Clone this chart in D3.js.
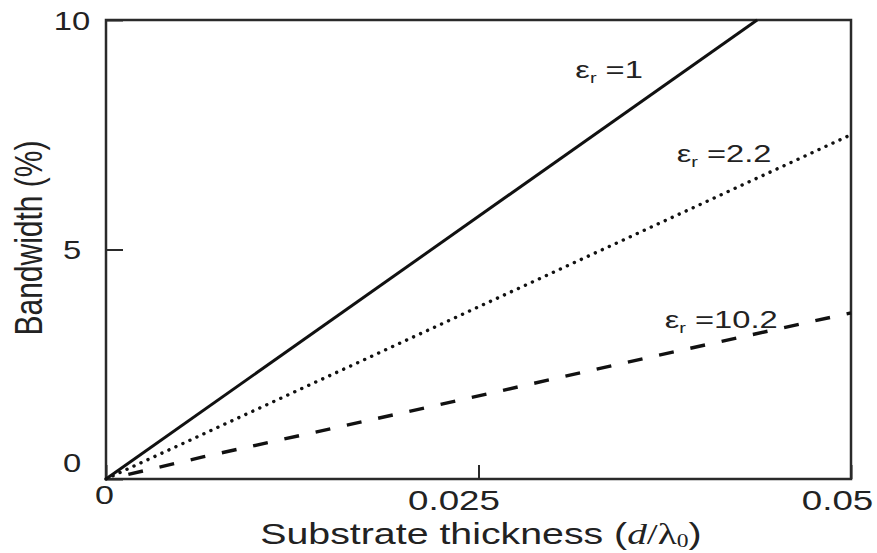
<!DOCTYPE html>
<html>
<head>
<meta charset="utf-8">
<script src="https://cdn.jsdelivr.net/npm/d3@7"></script>
<style>
  body { margin: 0; background: #fff; }
  text { font-family: "Liberation Sans", Arial, sans-serif; fill: #222; }
</style>
</head>
<body>
<svg id="chart"></svg>
<script>
// data
var xTicks = [0, 0.025, 0.05];
var xTickLabels = ["0", "0.025", "0.05"];
var yTicks = [0, 5, 10];
var yTickLabels = ["0", "5", "10"];

var epsValues = ["1", "2.2", "10.2"];
var er1 = [[0, 0], [0.0437, 10]];
var er22 = [[0, 0], [0.05, 7.5]];
var er102 = [[0.0015, 0.1], [0.0065, 0.48], [0.0217, 1.57], [0.0363, 2.64], [0.05, 3.62]];

// where the curve names sit, in data units
var labelAt = [[0.0315, 8.74], [0.0383, 6.9], [0.0375, 3.29]];

function init(){
    var width = 877;
    var height = 553;
    var margin = {left: 106, right: 26, top: 20, bottom: 74};
    var stretch = 1.31; // the scan is wider than tall, so text is too

    var svg = d3.select("#chart").attr("width", width).attr("height", height);

    var x = d3.scaleLinear().domain([0, 0.05]).range([margin.left, width - margin.right]);
    var y = d3.scaleLinear().domain([0, 10]).range([height - margin.bottom, margin.top]);

    var line = d3.line()
                .x(function(d){ return x(d[0]); })
                .y(function(d){ return y(d[1]); });

    // frame
    svg.append("rect")
        .attr("x", x(0))
        .attr("y", y(10))
        .attr("width", x(0.05) - x(0))
        .attr("height", y(0) - y(10))
        .attr("fill", "none")
        .attr("stroke", "#2a2a2a")
        .attr("stroke-width", 2.5);

    // y axis: inward ticks
    var yAxis = svg.append("g")
        .attr("transform", "translate(" + x(0) + ",0)")
        .call(d3.axisLeft(y).tickValues(yTicks).tickSize(-17).tickSizeOuter(0)
            .tickFormat(function(d, i){ return yTickLabels[i]; }));
    yAxis.select(".domain").remove();
    yAxis.selectAll(".tick line").attr("stroke", "#2a2a2a").attr("stroke-width", 2);
    yAxis.selectAll(".tick text")
        .attr("x", 0).attr("dy", null)
        .attr("text-anchor", "middle")
        .attr("font-size", 25)
        .attr("fill", "#222")
        .attr("transform", function(d){
            var up = d == 0 ? -17 : 0;
            return "translate(-34," + (9 + up) + ") scale(" + stretch + ",1)";
        });

    // x axis
    var xShift = [-2, -25, -14];
    var xLift = [-6, 0, 0];
    var xSize = [25, 27, 27];
    var xAxis = svg.append("g")
        .attr("transform", "translate(0," + y(0) + ")")
        .call(d3.axisBottom(x).tickValues(xTicks).tickSize(-14).tickSizeOuter(0)
            .tickFormat(function(d, i){ return xTickLabels[i]; }));
    xAxis.select(".domain").remove();
    xAxis.selectAll(".tick line").attr("stroke", "#2a2a2a").attr("stroke-width", 2);
    xAxis.selectAll(".tick text")
        .attr("y", 0).attr("dy", null)
        .attr("text-anchor", "middle")
        .attr("font-size", function(d, i){ return xSize[i]; })
        .attr("fill", "#222")
        .attr("transform", function(d, i){
            return "translate(" + xShift[i] + "," + (31 + xLift[i]) + ") scale(1.36,1)";
        });

    // curves
    var lines = svg.append("g").attr("fill", "none").attr("stroke", "#111");
    lines.append("path")
        .attr("stroke-width", 3)
        .attr("d", line(er1));
    lines.append("path")
        .attr("stroke-width", 3.4)
        .attr("stroke-linecap", "round")
        .attr("stroke-dasharray", "0.1 7.6")
        .attr("d", line(er22));
    lines.append("path")
        .attr("stroke-width", 3.4)
        .attr("stroke-dasharray", "15 17")
        .attr("d", line(er102));

    // curve names
    var names = svg.append("g")
        .selectAll("text")
        .data(epsValues)
        .enter()
        .append("text")
        .attr("font-family", "'Open Sans', sans-serif")
        .attr("font-size", 23)
        .attr("fill", "#1a1a1a")
        .attr("transform", function(d, i){
            return "translate(" + x(labelAt[i][0]) + "," + y(labelAt[i][1]) + ") scale(1.42,1)";
        });
    names.append("tspan").text("\u03b5");
    names.append("tspan").attr("font-size", 14).attr("dy", 5).text("r");
    names.append("tspan").attr("dy", -5).text(function(d){ return " =" + d; });

    // axis titles
    var xt = svg.append("text")
        .attr("text-anchor", "middle")
        .attr("font-size", 30)
        .attr("transform", "translate(481,544) scale(" + stretch + ",1)");
    xt.append("tspan").text("Substrate thickness (");
    xt.append("tspan").attr("font-family", "'Liberation Serif', serif").attr("font-style", "italic").text("d");
    xt.append("tspan").attr("font-family", "'Liberation Serif', serif").text("/\u03bb");
    xt.append("tspan").attr("font-family", "'Liberation Serif', serif").attr("font-size", 18).attr("dy", 3).text("0");
    xt.append("tspan").attr("dy", -3).text(")");

    svg.append("text")
        .attr("text-anchor", "middle")
        .attr("font-size", 30)
        .attr("transform", "translate(42,238) scale(" + stretch + ",1) rotate(-90)")
        .text("Bandwidth (%)");
}
init();
</script>
</body>
</html>
